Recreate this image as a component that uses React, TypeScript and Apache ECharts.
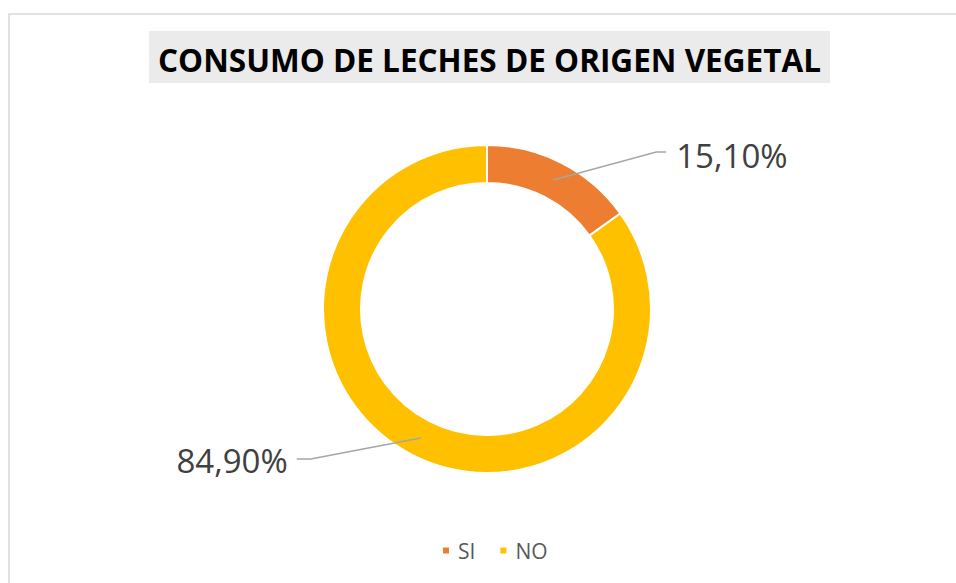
import React, { useEffect, useRef } from "react";
import * as echarts from "echarts";

const titleText = "CONSUMO DE LECHES DE ORIGEN VEGETAL";
const categories = ["SI", "NO"];
const values = [15.1, 84.9];
const colors = ["#ED7D31", "#FFC000"];

const fmt = (v: number) => v.toFixed(2).replace(".", ",") + "%";

const CX = 487;
const CY = 309;
const LINE_START_R = 145;

export default function App() {
  const ref = useRef<HTMLDivElement>(null);
  useEffect(() => {
    if (!ref.current) return;
    const chart = echarts.init(ref.current, null, { renderer: "svg" });
    const data = categories.map((name, i) => ({ name, value: values[i] }));
    chart.setOption({
      animation: false,
      backgroundColor: "#ffffff",
      color: colors,
      graphic: [
        {
          type: "rect",
          shape: { x: 9, y: 14, width: 1000, height: 1000 },
          style: { fill: "#ffffff", stroke: "#D9D9D9", lineWidth: 1.5 },
          z: -10,
        },
        {
          type: "rect",
          shape: { x: 149, y: 31, width: 681, height: 52 },
          style: { fill: "#EBEBEB" },
          z: -5,
        },
        {
          type: "text",
          x: 489.5,
          y: 59,
          scaleX: 0.985,
          style: {
            text: titleText,
            fontFamily: "Open Sans",
            fontWeight: "bold",
            fontSize: 32,
            fill: "#000000",
            align: "center",
            verticalAlign: "middle",
          },
        },
      ],
      legend: {
        data: categories,
        left: 436,
        top: 535,
        icon: "rect",
        itemWidth: 8,
        itemHeight: 8,
        itemGap: 23,
        textStyle: {
          fontFamily: "Open Sans",
          fontSize: 21,
          color: "#595959",
          padding: [0, 0, 0, 3],
        },
      },
      series: [
        {
          type: "pie",
          name: "ring",
          z: 2,
          center: [CX, CY],
          radius: [126, 164],
          startAngle: 90,
          clockwise: true,
          silent: true,
          label: { show: false },
          labelLine: { show: false },
          itemStyle: { borderColor: "#ffffff", borderWidth: 2 },
          data,
        },
        {
          type: "pie",
          name: "labels",
          z: 5,
          center: [CX, CY],
          radius: [0, LINE_START_R],
          startAngle: 90,
          clockwise: true,
          silent: true,
          itemStyle: { color: "rgba(0,0,0,0)" },
          label: {
            show: true,
            position: "outside",
            formatter: (p: any) => fmt(p.value),
            fontFamily: "Open Sans",
            fontSize: 33,
            color: "#404040",
          },
          labelLine: {
            show: true,
            length: 20,
            length2: 20,
            lineStyle: { color: "#A6A6A6", width: 1.5 },
          },
          labelLayout: (params: any) => {
            const pts = params.labelLinePoints;
            if (!pts || pts.length < 3) return {};
            const dx = pts[0][0] - CX;
            const dy = pts[0][1] - CY;
            const d = Math.sqrt(dx * dx + dy * dy) || 1;
            const p0 = [CX + (dx / d) * LINE_START_R, CY + (dy / d) * LINE_START_R];
            const right = dx >= 0;
            if (right) {
              const p1 = [p0[0] + 103, p0[1] - 28];
              const p2 = [p1[0] + 10, p1[1]];
              return {
                x: p2[0] + 10,
                y: p2[1] + 3,
                align: "left",
                verticalAlign: "middle",
                labelLinePoints: [p0, p1, p2],
              };
            }
            const p1 = [p0[0] - 110, p0[1] + 21];
            const p2 = [p1[0] - 14, p1[1]];
            return {
              x: p2[0] - 9,
              y: p2[1] + 2,
              align: "right",
              verticalAlign: "middle",
              labelLinePoints: [p0, p1, p2],
            };
          },
          data,
        },
      ],
    });
    return () => chart.dispose();
  }, []);
  return (
    <div
      ref={ref}
      style={{ position: "fixed", left: 0, top: 0, width: 956, height: 583 }}
    />
  );
}
